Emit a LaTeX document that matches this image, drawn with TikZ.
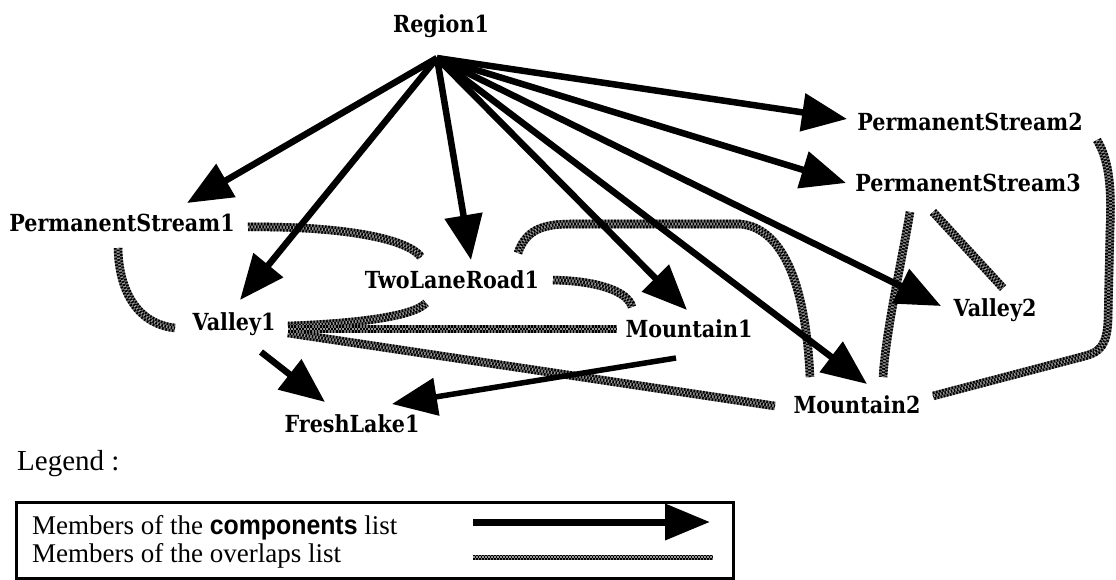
\documentclass[tikz,border=0pt]{standalone}
\usepackage{fontspec}
\newfontfamily\lblfont{DejaVu Serif}[FakeStretch=0.88]
\newfontfamily\legfont{Liberation Serif}
\newfontfamily\legsans{Liberation Sans}[FakeStretch=0.92]
\usetikzlibrary{arrows.meta,calc}
\begin{document}
\begin{tikzpicture}[x=1pt,y=-1pt,
  lbl/.style={font=\lblfont\bfseries\fontsize{23.5}{26}\selectfont, inner sep=0pt, anchor=base},
  leg/.style={font=\legfont\fontsize{27}{30}\selectfont, inner sep=0pt, anchor=base west},
  comp/.style={line width=6.5pt, -{Triangle[length=45pt,width=37pt]}},
  ovl/.style={line width=8.5pt, draw=black!55,
    postaction={draw=black, line width=8.5pt, dash pattern=on 1.6pt off 1.6pt},
    postaction={draw=black!40, line width=2.9pt},
    postaction={draw=black, line width=2.9pt, dash pattern=on 1.6pt off 1.6pt, dash phase=1.6pt}},
  ovlthin/.style={line width=5pt, draw=black!55,
    postaction={draw=black, line width=5pt, dash pattern=on 1.5pt off 1.5pt},
    postaction={draw=black!40, line width=1.7pt},
    postaction={draw=black, line width=1.7pt, dash pattern=on 1.5pt off 1.5pt, dash phase=1.5pt}}]
\useasboundingbox (0,0) rectangle (1116,580);
\fill[white] (0,0) rectangle (1116,580);

% objects of the region
\node[lbl] (region) at (441,33)  {Region1};
\node[lbl] (ps1)    at (122,232) {PermanentStream1};
\node[lbl] (ps2)    at (970,131) {PermanentStream2};
\node[lbl] (ps3)    at (968,192) {PermanentStream3};
\node[lbl] (tlr)    at (452,288) {TwoLaneRoad1};
\node[lbl] (v1)     at (234,330) {Valley1};
\node[lbl] (m1)     at (689,337) {Mountain1};
\node[lbl] (v2)     at (995,316) {Valley2};
\node[lbl] (m2)     at (857,413) {Mountain2};
\node[lbl] (fl)     at (352,432) {FreshLake1};
\coordinate (hub) at ($(region.base)+(-4,25)$);

% overlaps
\draw[ovl] ($(ps1.base)+(126,-5)$) .. controls (330,226) and (405,236) .. ($(tlr.base)+(-31,-31)$);
\draw[ovl] ($(ps1.base)+(-4,16)$) .. controls (119,292) and (138,324) .. ($(v1.base)+(-59,-2)$);
\draw[ovl] ($(tlr.base)+(101,-8)$) .. controls (600,281) and (628,292) .. ($(m1.base)+(-57,-30)$);
\draw[ovl] ($(tlr.base)+(66,-35)$) .. controls (525,232) and (540,224) .. (570,224)
           -- (740,224) .. controls (785,228) and (806,290) .. ($(m2.base)+(-47,-36)$);
\draw[ovl] ($(v1.base)+(54,-4)$) .. controls (345,324) and (412,318) .. ($(tlr.base)+(-26,15)$);
\draw[ovl] ($(v1.base)+(54,3)$) -- ($(m2.base)+(-82,-7)$);
\draw[ovl] ($(v1.base)+(54,-1)$) -- ($(m1.base)+(-72,-8)$);
\draw[ovl] ($(ps3.base)+(-58,20)$) .. controls (902,260) and (886,330) .. ($(m2.base)+(26,-36)$);
\draw[ovl] ($(ps3.base)+(-35,20)$) -- ($(v2.base)+(8,-28)$);
\draw[ovl] ($(ps2.base)+(127,9)$) .. controls (1112,165) and (1111,200) .. (1110,230)
           -- (1108,320) .. controls (1107,345) and (1100,352) .. (1085,356)
           -- ($(m2.base)+(76,-17)$);

% components
\draw[comp] (hub) -- ($(ps1.base)+(65,-29)$);
\draw[comp] (hub) -- ($(v1.base)+(6,-30)$);
\draw[comp] (hub) -- ($(tlr.base)+(19,-28)$);
\draw[comp] (hub) -- ($(m1.base)+(-2,-27)$);
\draw[comp] (hub) -- ($(m2.base)+(10,-29)$);
\draw[comp] (hub) -- ($(v2.base)+(-54,-10)$);
\draw[comp] (hub) -- ($(ps3.base)+(-122,-9)$);
\draw[comp] (hub) -- ($(ps2.base)+(-123,-12)$);
\draw[comp] ($(v1.base)+(27,22)$) -- ($(fl.base)+(-27,-30)$);
\draw[comp, line width=5.5pt] ($(m1.base)+(-13,21)$) -- ($(fl.base)+(40,-28)$);

% legend
\node[leg, font=\legfont\fontsize{29}{32}\selectfont] (legend) at (17,470) {Legend :};
\node[draw, line width=2.5pt, minimum width=717pt, minimum height=76pt, inner sep=0pt,
      anchor=north west] (legbox) at (15,501) {};
\node[leg] (leg1) at (32,534) {Members of the {\legsans\bfseries components} list};
\node[leg] (leg2) at (32,562) {Members of the overlaps list};
\coordinate (ca) at ($(legbox.north west)+(458,21)$);
\coordinate (cb) at ($(legbox.north west)+(695,21)$);
\coordinate (oa) at ($(legbox.north west)+(458,56)$);
\coordinate (ob) at ($(legbox.north west)+(698,56)$);
\draw[line width=7pt, -{Triangle[length=45pt,width=35pt]}] (ca) -- (cb);
\draw[ovlthin] (oa) -- (ob);
\end{tikzpicture}
\end{document}
